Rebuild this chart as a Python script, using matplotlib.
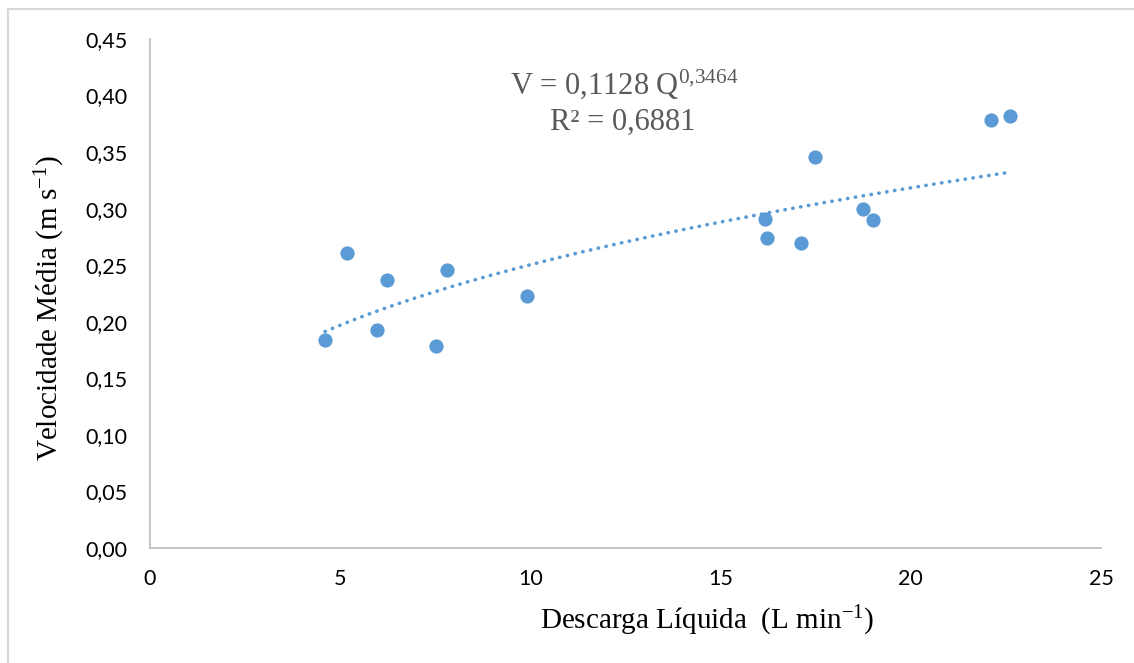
import numpy as np
import matplotlib
matplotlib.use("Agg")
import matplotlib.pyplot as plt
from matplotlib.lines import Line2D

# data
descarga = [4.60, 5.18, 5.97, 6.23, 7.52, 7.81, 9.91, 16.17, 16.22, 17.11,
            17.48, 18.74, 19.01, 22.11, 22.61]
velocidade = [0.184, 0.261, 0.193, 0.237, 0.179, 0.246, 0.223, 0.291, 0.274, 0.270,
              0.346, 0.300, 0.290, 0.378, 0.382]

# power trendline given on the chart
coef_a = 0.1128
coef_b = 0.3464
r2_text = "0,6881"

x_ticks = [0, 5, 10, 15, 20, 25]
y_ticks = [0.00, 0.05, 0.10, 0.15, 0.20, 0.25, 0.30, 0.35, 0.40, 0.45]

BLUE = "#5b9bd5"
GRID_GRAY = "#bfbfbf"

plt.rcParams["mathtext.fontset"] = "custom"
plt.rcParams["mathtext.rm"] = "Liberation Serif"
plt.rcParams["mathtext.it"] = "Liberation Serif"

fig = plt.figure(figsize=(11.34, 6.63), dpi=100)
ax = fig.add_axes([150 / 1134, 1 - 548 / 663, (1101 - 150) / 1134, (548 - 39) / 663])

ax.scatter(descarga, velocidade, s=105, color=BLUE, zorder=3, linewidths=0)

q = np.linspace(min(descarga), max(descarga), 200)
ax.plot(q, coef_a * q ** coef_b, color=BLUE, lw=2.6,
        linestyle=(0, (0.1, 2.1)), dash_capstyle="round", zorder=2)

ax.set_xlim(0, 25)
ax.set_ylim(0, 0.45)
ax.set_xticks(x_ticks)
ax.set_yticks(y_ticks)
ax.set_xticklabels([str(t) for t in x_ticks])
ax.set_yticklabels([f"{t:.2f}".replace(".", ",") for t in y_ticks])
ax.tick_params(axis="y", length=0, labelsize=15.5, pad=16)
ax.tick_params(axis="x", length=0, labelsize=15.5, pad=15)
for lbl in ax.get_xticklabels() + ax.get_yticklabels():
    lbl.set_fontfamily("Lato")
    lbl.set_color("#000000")

for side in ["top", "right"]:
    ax.spines[side].set_visible(False)
for side in ["left", "bottom"]:
    ax.spines[side].set_color(GRID_GRAY)
    ax.spines[side].set_linewidth(1.3)

fig.text(707 / 1134, 1 - 621 / 663, "Descarga Líquida  (L min$^{-1}$)",
         ha="center", va="center", fontsize=21, family="Liberation Serif")
fig.text(50 / 1134, 1 - 308 / 663, "Velocidade Média (m s$^{-1}$)",
         ha="center", va="center", rotation=90, fontsize=21, family="Liberation Serif")

fig.text(624 / 1134, 1 - 84 / 663, "V = 0,1128 Q$^{0{,}3464}$",
         ha="center", va="center", fontsize=22, family="Liberation Serif", color="#595959")
fig.text(623 / 1134, 1 - 122 / 663, f"R² = {r2_text}",
         ha="center", va="center", fontsize=22, family="Liberation Serif", color="#595959")

# outer chart border (left and top edges visible)
fig.add_artist(Line2D([8 / 1134, 8 / 1134], [0, 1 - 9 / 663], transform=fig.transFigure,
                      color="#d9d9d9", lw=1.5))
fig.add_artist(Line2D([8 / 1134, 1], [1 - 9 / 663, 1 - 9 / 663], transform=fig.transFigure,
                      color="#d9d9d9", lw=1.5))

fig.savefig("out.png", dpi=100, facecolor="white")
